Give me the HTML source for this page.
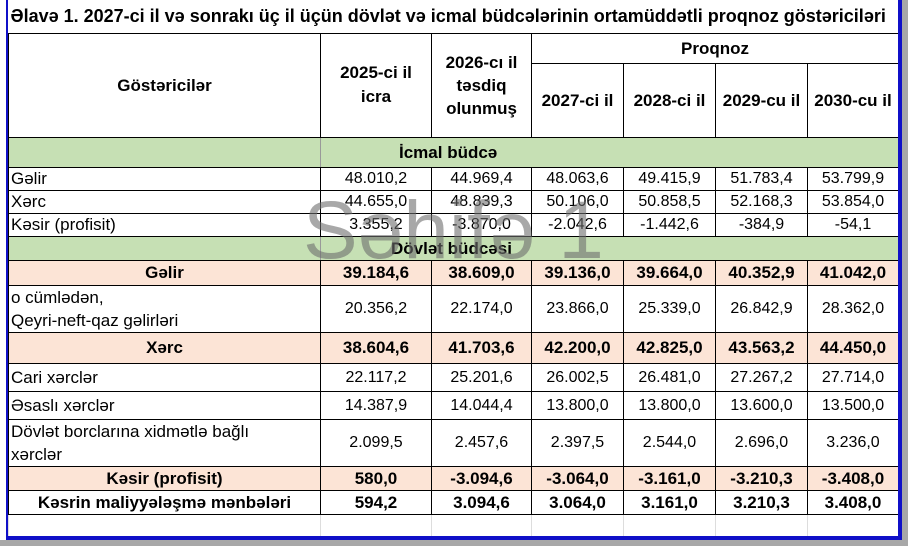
<!DOCTYPE html><html><head><meta charset="utf-8"><style>
body{margin:0;width:908px;height:546px;background:#a8a8a8;position:relative;overflow:hidden;font-family:"Liberation Sans",Arial,sans-serif;}
#sheet{position:absolute;left:0;top:0;width:902px;height:540px;background:#fff;}
#bl{position:absolute;left:6px;top:0;width:2px;height:540px;background:#1010c8;}
#br{position:absolute;left:898px;top:0;width:4px;height:540px;background:#1010c8;}
#bb{position:absolute;left:6px;top:536px;width:896px;height:4px;background:#1010c8;}
table{position:absolute;left:8px;top:0;border-collapse:collapse;table-layout:fixed;font-size:16px;color:#000;}
td{border:1px solid #000;padding:0 3px;text-align:center;white-space:nowrap;overflow:hidden;line-height:19px;}
td.l{text-align:left;padding-left:2px;font-size:17px;}
.b{font-weight:bold}
.h{font-size:17px;}
.g td{background:#c6e0b4;}
.g td:first-child{border-right:1px solid #999;}
.p td{background:#fce4d6;font-weight:bold;}
.e td{border:none;border-left:1px solid #ddd;}
#wm{position:absolute;left:303px;top:184px;font-size:82px;color:rgba(110,110,110,0.6);font-family:"Liberation Sans",sans-serif;}
</style></head><body><div id="sheet"></div>
<table>
<colgroup><col style="width:312px"><col style="width:111px"><col style="width:100px"><col style="width:92px"><col style="width:92px"><col style="width:92px"><col style="width:91px"></colgroup>
<tr style="height:33px"><td colspan="7" class="l b" style="font-size:18px;border-top:none;border-left:none;overflow:visible">Əlavə 1. 2027-ci il və sonrakı üç il üçün dövlət və icmal büdcələrinin ortamüddətli proqnoz göstəriciləri</td></tr>
<tr style="height:30px"><td rowspan="2" class="b h">Göstəricilər</td><td rowspan="2" class="b h" style="white-space:normal;line-height:24px;padding:0 12px">2025-ci il icra</td><td rowspan="2" class="b h" style="white-space:normal;line-height:23px">2026-cı il təsdiq olunmuş</td><td colspan="4" class="b h">Proqnoz</td></tr>
<tr style="height:74px"><td class="b h">2027-ci il</td><td class="b h">2028-ci il</td><td class="b h">2029-cu il</td><td class="b h">2030-cu il</td></tr>
<tr class="g" style="height:30px"><td></td><td colspan="6" class="b h" style="text-align:left;padding-left:78px">İcmal büdcə</td></tr>
<tr style="height:23px"><td class="l">Gəlir</td><td>48.010,2</td><td>44.969,4</td><td>48.063,6</td><td>49.415,9</td><td>51.783,4</td><td>53.799,9</td></tr>
<tr style="height:23px"><td class="l">Xərc</td><td>44.655,0</td><td>48.839,3</td><td>50.106,0</td><td>50.858,5</td><td>52.168,3</td><td>53.854,0</td></tr>
<tr style="height:23px"><td class="l">Kəsir (profisit)</td><td>3.355,2</td><td>-3.870,0</td><td>-2.042,6</td><td>-1.442,6</td><td>-384,9</td><td>-54,1</td></tr>
<tr class="g" style="height:24px"><td></td><td colspan="6" class="b h" style="text-align:left;padding-left:70px">Dövlət büdcəsi</td></tr>
<tr class="p h" style="height:25px"><td>Gəlir</td><td>39.184,6</td><td>38.609,0</td><td>39.136,0</td><td>39.664,0</td><td>40.352,9</td><td>41.042,0</td></tr>
<tr style="height:47px"><td class="l" style="line-height:23px">o cümlədən,<br>Qeyri-neft-qaz gəlirləri</td><td>20.356,2</td><td>22.174,0</td><td>23.866,0</td><td>25.339,0</td><td>26.842,9</td><td>28.362,0</td></tr>
<tr class="p h" style="height:31px"><td>Xərc</td><td>38.604,6</td><td>41.703,6</td><td>42.200,0</td><td>42.825,0</td><td>43.563,2</td><td>44.450,0</td></tr>
<tr style="height:28px"><td class="l">Cari xərclər</td><td>22.117,2</td><td>25.201,6</td><td>26.002,5</td><td>26.481,0</td><td>27.267,2</td><td>27.714,0</td></tr>
<tr style="height:28px"><td class="l">Əsaslı xərclər</td><td>14.387,9</td><td>14.044,4</td><td>13.800,0</td><td>13.800,0</td><td>13.600,0</td><td>13.500,0</td></tr>
<tr style="height:47px"><td class="l" style="line-height:23px">Dövlət borclarına xidmətlə bağlı<br>xərclər</td><td>2.099,5</td><td>2.457,6</td><td>2.397,5</td><td>2.544,0</td><td>2.696,0</td><td>3.236,0</td></tr>
<tr class="p h" style="height:24px"><td>Kəsir (profisit)</td><td>580,0</td><td>-3.094,6</td><td>-3.064,0</td><td>-3.161,0</td><td>-3.210,3</td><td>-3.408,0</td></tr>
<tr class="b h" style="height:24px"><td>Kəsrin maliyyələşmə mənbələri</td><td>594,2</td><td>3.094,6</td><td>3.064,0</td><td>3.161,0</td><td>3.210,3</td><td>3.408,0</td></tr>
<tr class="e" style="height:22px"><td></td><td></td><td></td><td></td><td></td><td></td><td></td></tr>
</table>
<div id="wm">Səhifə 1</div>
<div id="bl"></div><div id="br"></div><div id="bb"></div>
</body></html>
